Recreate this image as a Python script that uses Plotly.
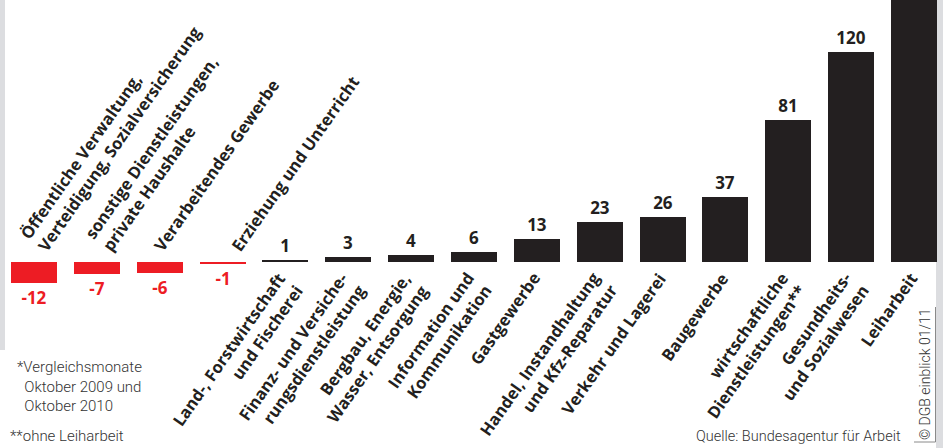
import plotly.graph_objects as go

categories = [
    "Öffentliche Verwaltung,<br>Verteidigung, Sozialversicherung",
    "sonstige Dienstleistungen,<br>private Haushalte",
    "Verarbeitendes Gewerbe",
    "Erziehung und Unterricht",
    "Land-, Forstwirtschaft<br>und Fischerei",
    "Finanz- und Versiche-<br>rungsdienstleistung",
    "Bergbau, Energie,<br>Wasser, Entsorgung",
    "Information und<br>Kommunikation",
    "Gastgewerbe",
    "Handel, Instandhaltung<br>und Kfz-Reparatur",
    "Verkehr und Lagerei",
    "Baugewerbe",
    "wirtschaftliche<br>Dienstleistungen**",
    "Gesundheits-<br>und Sozialwesen",
    "Leiharbeit",
]
values = [-12, -7, -6, -1, 1, 3, 4, 6, 13, 23, 26, 37, 81, 120, 180]
value_labels = ["-12", "-7", "-6", "-1", "1", "3", "4", "6", "13", "23", "26", "37", "81", "120", ""]

footnote = "*Vergleichsmonate<br>  Oktober 2009 und<br>  Oktober 2010"
footnote2 = "**ohne Leiharbeit"
source = "Quelle: Bundesagentur für Arbeit"
copyright_txt = "© DGB einblick 01/11"

RED = "#ed1c24"
BLACK = "#231f20"
GREY_TXT = "#333333"
W, H = 943, 448

xs = list(range(len(categories)))
colors = [RED if v < 0 else BLACK for v in values]

fig = go.Figure()
fig.add_trace(go.Bar(
    x=xs, y=values, width=0.732,
    marker=dict(color=colors, line=dict(width=0)),
    text=value_labels, textposition="outside",
    textfont=dict(family="Open Sans", size=17, color=colors, weight="bold"),
    cliponaxis=True,
    hoverinfo="skip",
))

LABEL_FONT = dict(family="Open Sans", size=16.5, color=BLACK, weight="bold")
top_dx = [-22, -20, -14, 0]
ann = []
for i, (c, v) in enumerate(zip(categories, values)):
    lines = c.count("<br>") + 1
    if v < 0:
        ann.append(dict(x=xs[i], y=0, xref="x", yref="y", text=c, showarrow=False,
                        textangle=-55, xanchor="left", yanchor="bottom", align="left",
                        xshift=top_dx[i], yshift=4, font=LABEL_FONT))
    else:
        ann.append(dict(x=xs[i], y=0, xref="x", yref="y", text=c, showarrow=False,
                        textangle=-55, xanchor="right", yanchor="top", align="right",
                        xshift=25 if lines > 1 else 11, yshift=-3, font=LABEL_FONT))

NOTE_FONT = dict(family="Roboto", size=15, color=GREY_TXT, weight=300)
ann.append(dict(x=15 / W, y=1 - 356 / H, xref="paper", yref="paper", text=footnote, showarrow=False,
                xanchor="left", yanchor="top", align="left", font=NOTE_FONT))
ann.append(dict(x=8 / W, y=1 - 447 / H, xref="paper", yref="paper", text=footnote2, showarrow=False,
                xanchor="left", yanchor="bottom", align="left", font=NOTE_FONT))
ann.append(dict(x=903 / W, y=1 - 447 / H, xref="paper", yref="paper", text=source, showarrow=False,
                xanchor="right", yanchor="bottom", align="right",
                font=dict(family="Roboto", size=14.5, color=GREY_TXT, weight=300)))
ann.append(dict(x=925 / W, y=1 - 374 / H, xref="paper", yref="paper", text=copyright_txt, showarrow=False,
                textangle=-90, xanchor="center", yanchor="middle",
                font=dict(family="Roboto", size=14, color=GREY_TXT, weight=300)))

shapes = [
    dict(type="rect", xref="paper", yref="paper", x0=0, x1=5 / W, y0=1 - 350 / H, y1=1,
         fillcolor="#dcdde0", line=dict(width=0), layer="below"),
    dict(type="rect", xref="paper", yref="paper", x0=936 / W, x1=1, y0=0, y1=1,
         fillcolor="#dcdde0", line=dict(width=0), layer="below"),
    dict(type="line", xref="paper", yref="paper", x0=935.5 / W, x1=935.5 / W, y0=1 - 307 / H, y1=1 - 442 / H,
         line=dict(color="#8a8a8a", width=1)),
    dict(type="line", xref="paper", yref="paper", x0=914 / W, x1=935.5 / W, y0=1 - 442 / H, y1=1 - 442 / H,
         line=dict(color="#8a8a8a", width=1)),
]

px_per_unit = 1.75
base_px = 262
pitch = 62.86
x0 = -34 / pitch
fig.update_layout(
    width=W, height=H, margin=dict(l=0, r=0, t=0, b=0),
    paper_bgcolor="white", plot_bgcolor="rgba(0,0,0,0)",
    showlegend=False, bargap=0,
    xaxis=dict(range=[x0, x0 + W / pitch], visible=False, fixedrange=True),
    yaxis=dict(range=[-(H - base_px) / px_per_unit, base_px / px_per_unit], visible=False, fixedrange=True),
    annotations=ann, shapes=shapes,
)
fig.write_html("out.html")
